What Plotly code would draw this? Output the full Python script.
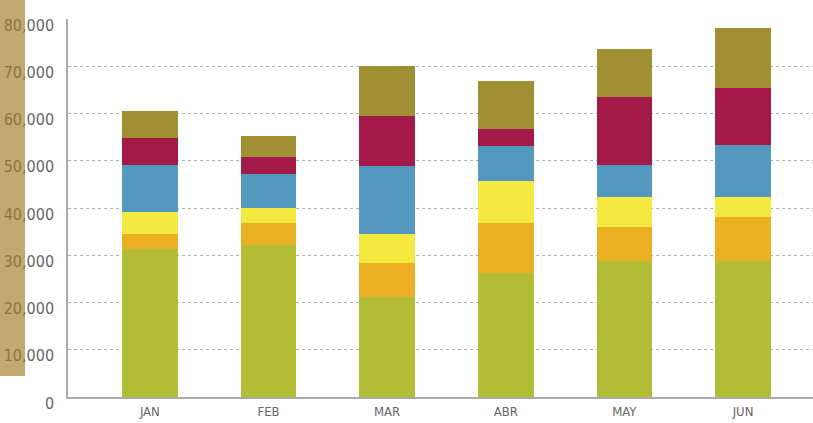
import plotly.graph_objects as go

months = ["JAN", "FEB", "MAR", "ABR", "MAY", "JUN"]
green = [31400, 32200, 21100, 26200, 28850, 28850]
orange = [3000, 4600, 7200, 10600, 7200, 9300]
yellow = [4800, 3100, 6200, 9000, 6300, 4150]
blue = [9800, 7400, 14400, 7400, 6650, 11000]
crimson = [5800, 3600, 10600, 3500, 14450, 12200]
olive = [5800, 4300, 10600, 10200, 10300, 12500]

tick_vals = [0, 10000, 20000, 30000, 40000, 50000, 60000, 70000, 80000]
tick_text = ["0", "10,000", "20,000", "30,000", "40,000", "50,000", "60,000", "70,000", "80,000"]

series = [
    ("Serie 1", green, "#b2bd35"),
    ("Serie 2", orange, "#ebb021"),
    ("Serie 3", yellow, "#f3e93f"),
    ("Serie 4", blue, "#5298bf"),
    ("Serie 5", crimson, "#a31a48"),
    ("Serie 6", olive, "#a18f33"),
]

fig = go.Figure()
for name, vals, col in series:
    fig.add_trace(go.Bar(x=months, y=vals, name=name, marker=dict(color=col, line=dict(width=0)),
                         width=0.47))

L, R, T, B = 68, 0, 19, 26
W, H = 813, 423
pw, ph = W - L - R, H - T - B

fig.update_layout(
    barmode="stack",
    width=W, height=H,
    margin=dict(l=L, r=R, t=T, b=B, autoexpand=False),
    paper_bgcolor="white", plot_bgcolor="white",
    showlegend=False,
    font=dict(family="DejaVu Sans Condensed, sans-serif", color="#666666"),
    shapes=[dict(type="rect", xref="paper", yref="paper",
                 x0=-L / pw, x1=(25 - L) / pw,
                 y0=(H - B - 376) / ph,
                 y1=(H - B) / ph,
                 fillcolor="#9f7d26", opacity=0.65, line=dict(width=0), layer="above")],
)
fig.update_xaxes(
    range=[-0.69, 5.59], showgrid=False, showline=True, linecolor="#aaaaaa", linewidth=2,
    ticks="", tickfont=dict(size=13, color="#666666"), fixedrange=True, automargin=False,
    ticklabelstandoff=1,
)
fig.update_yaxes(
    range=[0, 80000], tickvals=tick_vals, ticktext=tick_text,
    showgrid=True, gridcolor="#b0b0b0", griddash="3px,3px", gridwidth=1,
    showline=True, linecolor="#aaaaaa", linewidth=1.5, zeroline=False,
    ticks="", tickfont=dict(size=16, color="#666666"), ticklabelstandoff=9,
    ticklabelshift=6, automargin=False, fixedrange=True,
)
fig.write_html("out.html", post_script="document.body.style.margin='0px';",
               config={"displayModeBar": False})
